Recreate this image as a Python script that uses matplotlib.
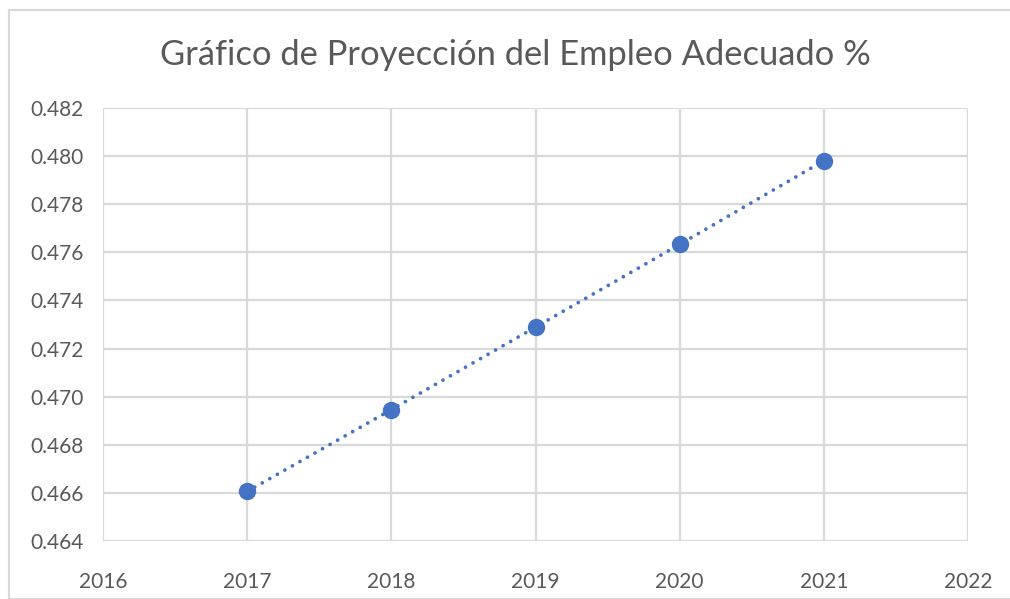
import matplotlib
matplotlib.use("Agg")
import matplotlib.pyplot as plt
from matplotlib.patches import Rectangle

years = [2017, 2018, 2019, 2020, 2021]
values = [0.46606, 0.46946, 0.47289, 0.47633, 0.47981]
yticks = [0.464, 0.466, 0.468, 0.470, 0.472, 0.474, 0.476, 0.478, 0.480, 0.482]
xticks = [2016, 2017, 2018, 2019, 2020, 2021, 2022]
title = "Gráfico de Proyección del Empleo Adecuado %"

plt.rcParams['font.family'] = ['Lato', 'DejaVu Sans']
W, H = 1010, 599
fig = plt.figure(figsize=(W/100, H/100), dpi=100)
fig.patch.set_facecolor('white')
fig.patches.append(Rectangle((9/W, 0), 1.2, 1 - 10/H, transform=fig.transFigure,
                             fill=False, edgecolor='#D9D9D9', linewidth=1.5))

ax = fig.add_axes([103/W, 1 - 541/H, (968-103)/W, (541-108)/H])
ax.plot(years, values, linestyle=(0, (0.01, 2.3)), linewidth=2.7, color='#4472C4',
        dash_capstyle='round', marker='o', markersize=11.5,
        markerfacecolor='#4472C4', markeredgecolor='#4472C4', zorder=3, clip_on=False)
ax.set_xlim(2016, 2022)
ax.set_ylim(0.464, 0.482)
ax.set_xticks(xticks)
ax.set_xticklabels([str(x) for x in xticks])
ax.set_yticks(yticks)
ax.set_yticklabels([f"{v:.3f}" for v in yticks])
ax.grid(True, color='#D9D9D9', linewidth=1.6)
ax.set_axisbelow(True)
for s in ax.spines.values():
    s.set_visible(False)
ax.tick_params(length=0, labelsize=15, labelcolor='#595959')
ax.tick_params(axis='x', pad=22)
ax.tick_params(axis='y', pad=14)
fig.text(515/W, 1 - 55/H, title, ha='center', va='center', fontsize=24.8,
         color='#595959')
fig.savefig("out.png", dpi=100)
